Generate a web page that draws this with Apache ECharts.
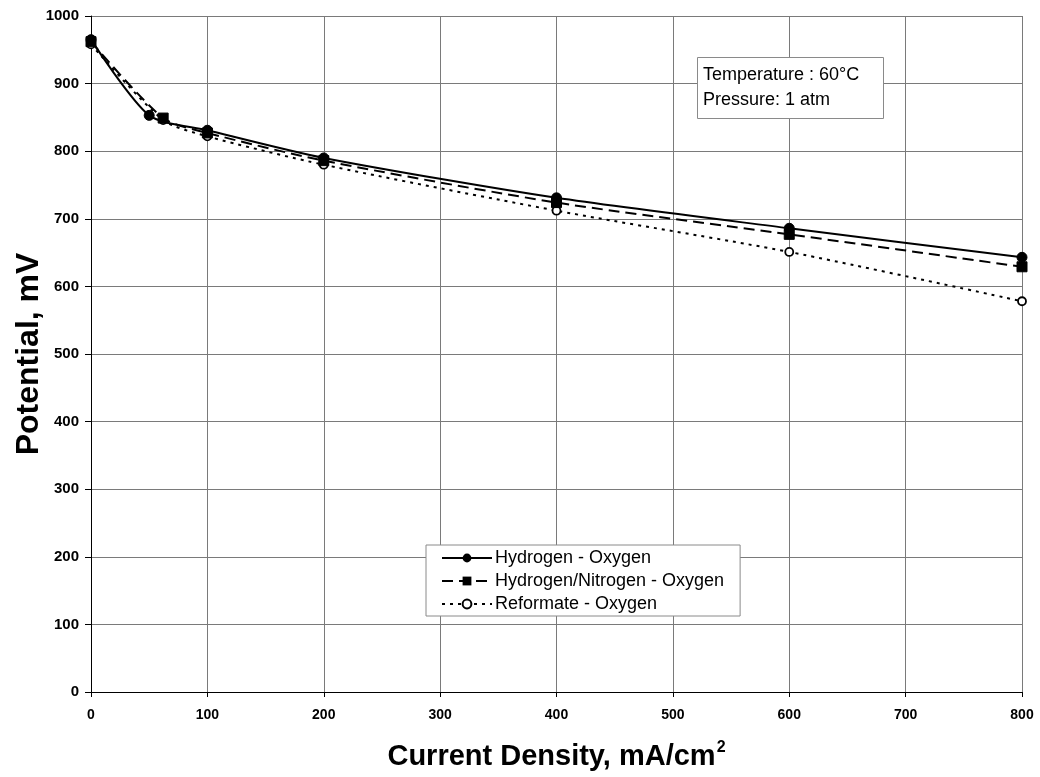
<!DOCTYPE html>
<html>
<head>
<meta charset="utf-8">
<script src="https://cdn.jsdelivr.net/npm/echarts@6/dist/echarts.min.js"></script>
<style>
  html, body { margin: 0; padding: 0; background: #fff; }
  #chart { width: 1040px; height: 777px; }
</style>
</head>
<body>
<div id="chart"></div>
<script>
// Cell polarization curves: potential vs current density
const seriesNames = ['Hydrogen - Oxygen', 'Hydrogen/Nitrogen - Oxygen', 'Reformate - Oxygen'];

const hydrogenOxygen = [[0, 965], [50, 853], [100, 831], [200, 790], [400, 731], [600, 686], [800, 643]];
const hydrogenNitrogenOxygen = [[0, 962], [62, 849], [100, 827], [200, 786], [400, 724], [600, 677], [800, 629]];
const reformateOxygen = [[0, 958], [62, 846], [100, 822], [200, 780], [400, 712], [600, 651], [800, 578]];

const xTicks = { min: 0, max: 800, interval: 100 };
const yTicks = { min: 0, max: 1000, interval: 100 };

const conditionsText = ['Temperature : 60°C', 'Pressure: 1 atm'];

const chart = echarts.init(document.getElementById('chart'));

const baseFont = 'Liberation Sans, Arial, sans-serif';

chart.setOption({
  animation: false,
  backgroundColor: '#ffffff',
  grid: { left: 91, right: 18, top: 16, bottom: 85, containLabel: false, outerBoundsMode: 'none' },
  title: {
    text: conditionsText.join('\n'),
    left: 697,
    top: 57,
    padding: [6, 24, 6, 6],
    backgroundColor: '#ffffff',
    borderColor: '#8a8a8a',
    borderWidth: 1,
    textStyle: {
      fontFamily: baseFont,
      fontSize: 18,
      fontWeight: 'normal',
      color: '#000',
      lineHeight: 25
    }
  },
  legend: {
    orient: 'vertical',
    left: 426,
    top: 545,
    padding: [4, 16, 3, 15],
    itemGap: 5,
    itemWidth: 50,
    itemHeight: 11,
    backgroundColor: '#ffffff',
    borderColor: '#8a8a8a',
    borderWidth: 1,
    textStyle: { fontFamily: baseFont, fontSize: 18, lineHeight: 18, color: '#000', padding: [0, 0, 0, -2] },
    data: seriesNames
  },
  xAxis: {
    type: 'value',
    min: xTicks.min,
    max: xTicks.max,
    interval: xTicks.interval,
    axisLine: { lineStyle: { color: '#000', width: 1 } },
    axisTick: { show: true, length: 5, inside: false, lineStyle: { color: '#000' } },
    axisLabel: { margin: 16, fontFamily: baseFont, fontWeight: 'bold', fontSize: 14, color: '#000' },
    splitLine: { show: true, lineStyle: { color: '#7a7a7a', width: 1 } },
    name: '{t|Current Density, mA/cm}{s|2}',
    nameLocation: 'middle',
    nameGap: 48,
    nameMoveOverlap: false,
    nameTextStyle: {
      rich: {
        t: { fontFamily: baseFont, fontWeight: 'bold', fontSize: 29, color: '#000' },
        s: { fontFamily: baseFont, fontWeight: 'bold', fontSize: 16, color: '#000', verticalAlign: 'top', padding: [0, 0, 17, 1] }
      }
    }
  },
  yAxis: {
    type: 'value',
    min: yTicks.min,
    max: yTicks.max,
    interval: yTicks.interval,
    axisLine: { show: true, lineStyle: { color: '#000', width: 1 } },
    axisTick: { show: true, length: 6, inside: false, lineStyle: { color: '#000' } },
    axisLabel: { margin: 12, fontFamily: baseFont, fontWeight: 'bold', fontSize: 15, color: '#000', formatter: (v) => String(v) },
    splitLine: { show: true, lineStyle: { color: '#7a7a7a', width: 1 } },
    name: 'Potential, mV',
    nameLocation: 'middle',
    nameGap: 46,
    nameMoveOverlap: false,
    nameTextStyle: { fontFamily: baseFont, fontWeight: 'bold', fontSize: 32, color: '#000' }
  },
  series: [
    {
      name: seriesNames[2],
      type: 'line',
      data: reformateOxygen,
      smooth: 0.25,
      symbol: 'circle',
      symbolSize: 8,
      itemStyle: { color: '#ffffff', borderColor: '#000', borderWidth: 1.8 },
      lineStyle: { color: '#000', width: 2, type: [3, 5] },
      z: 2
    },
    {
      name: seriesNames[1],
      type: 'line',
      data: hydrogenNitrogenOxygen,
      smooth: 0.25,
      symbol: 'rect',
      symbolSize: 10,
      itemStyle: { color: '#000', borderColor: '#000' },
      lineStyle: { color: '#000', width: 2, type: [11, 6] },
      z: 3
    },
    {
      name: seriesNames[0],
      type: 'line',
      data: hydrogenOxygen,
      smooth: 0.25,
      symbol: 'circle',
      symbolSize: 10,
      itemStyle: { color: '#000', borderColor: '#000' },
      lineStyle: { color: '#000', width: 2 },
      z: 4
    }
  ]
});
</script>
</body>
</html>
